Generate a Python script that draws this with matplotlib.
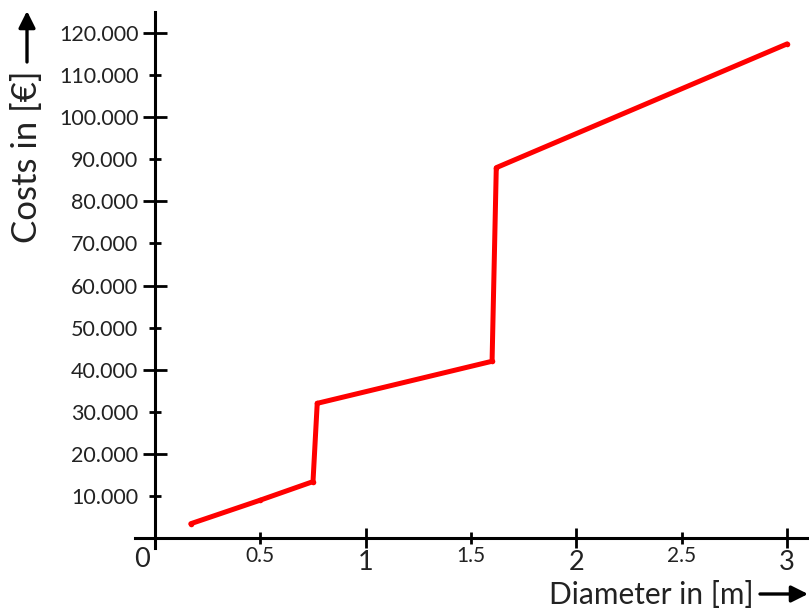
import matplotlib
matplotlib.use("Agg")
import matplotlib.pyplot as plt
from matplotlib.ticker import FixedLocator, FuncFormatter

plt.rcParams['font.family'] = ['Lato', 'DejaVu Sans']

# Pipe diameter [m] vs. cost [€]
diameter = [0.17, 0.50, 0.75, 0.77, 1.60, 1.62, 3.00]
cost = [3400, 9000, 13400, 32000, 42000, 88000, 117400]

x_major = [1, 2, 3]
x_minor = [0.5, 1.5, 2.5]
y_major = [20000, 40000, 60000, 80000, 100000, 120000]
y_minor = [10000, 30000, 50000, 70000, 90000, 110000]

W, H = 809, 609
fig = plt.figure(figsize=(W / 100, H / 100), dpi=100)

# axes box in pixels (left, top, right, bottom)
L, T, R, B = 135, 12, 809, 548
ax = fig.add_axes([L / W, 1 - B / H, (R - L) / W, (B - T) / H])

px_x = 210.67          # pixels per metre
px_y = 505 / 120000    # pixels per euro
x0, y0 = 155, 538
ax.set_xlim((L - x0) / px_x, (R - x0) / px_x)
ax.set_ylim(-(B - y0) / px_y, (y0 - T) / px_y)

ax.plot(diameter, cost, color='#ff0000', lw=3.6, solid_joinstyle='round',
        solid_capstyle='round', marker='o', ms=4, mew=0, zorder=3)

for s in ['top', 'right']:
    ax.spines[s].set_visible(False)
for s in ['left', 'bottom']:
    ax.spines[s].set_linewidth(2.2)
    ax.spines[s].set_color('black')
ax.spines['left'].set_position(('data', 0))
ax.spines['bottom'].set_position(('data', 0))

txt = '#222222'
ax.xaxis.set_major_locator(FixedLocator(x_major))
ax.xaxis.set_minor_locator(FixedLocator(x_minor))
ax.xaxis.set_major_formatter(FuncFormatter(lambda v, p: f'{v:g}'))
ax.xaxis.set_minor_formatter(FuncFormatter(lambda v, p: f'{v:g}'))
ax.tick_params(axis='x', which='major', direction='inout', length=15, width=2,
               labelsize=19.5, pad=1.5, labelcolor=txt)
ax.tick_params(axis='x', which='minor', direction='inout', length=8.5, width=2,
               labelsize=15, pad=1.5, labelcolor=txt)

fmt_y = FuncFormatter(lambda v, p: f'{int(v):,}'.replace(',', '.'))
ax.yaxis.set_major_locator(FixedLocator(y_major))
ax.yaxis.set_minor_locator(FixedLocator(y_minor))
ax.yaxis.set_major_formatter(fmt_y)
ax.yaxis.set_minor_formatter(fmt_y)
ax.tick_params(axis='y', which='major', direction='inout', length=17, width=2,
               labelsize=15.5, pad=3.5, labelcolor=txt)
ax.tick_params(axis='y', which='minor', direction='inout', length=9, width=2,
               labelsize=15.5, pad=7.5, labelcolor=txt)

# origin label
ax.annotate('0', xy=(0, 0), xycoords='data', xytext=(-13, -9),
            textcoords='offset pixels', ha='center', va='top',
            fontsize=19.5, color=txt)

# axis titles with arrows
fig.text(27 / W, 1 - 157 / H, 'Costs in [€]', rotation=90, ha='center',
         va='center', fontsize=25, color=txt)
fig.text(651 / W, 1 - 595 / H, 'Diameter in [m]', ha='center',
         va='center', fontsize=21.5, color=txt)

arrow = dict(arrowstyle='-|>,head_length=1.0,head_width=0.5', lw=2.4,
             color='black', shrinkA=0, shrinkB=0)
ax.annotate('', xy=(27 / W, 1 - 11 / H), xytext=(27 / W, 1 - 62 / H),
            xycoords='figure fraction', arrowprops=arrow, annotation_clip=False)
ax.annotate('', xy=(808 / W, 1 - 594 / H), xytext=(760 / W, 1 - 594 / H),
            xycoords='figure fraction', arrowprops=arrow, annotation_clip=False)

fig.savefig('out.png', dpi=100)
